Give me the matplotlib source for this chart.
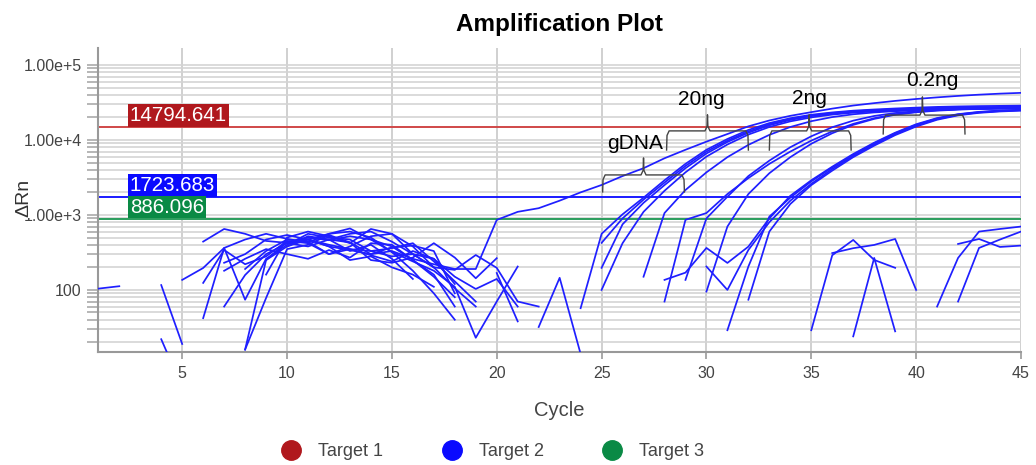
import numpy as np
import matplotlib
matplotlib.use('Agg')
import matplotlib.pyplot as plt
from matplotlib.lines import Line2D
from matplotlib.ticker import FixedLocator, LogLocator, NullFormatter

plt.rcParams['font.family'] = ['Liberation Sans', 'DejaVu Sans']

nan = np.nan

# delta Rn per cycle (cycle 1 first); nan = no positive reading
gdna = [nan, nan, nan, nan, nan, nan, 230, 300, 470, 540, 470, 380, 340, 300, 330, 260, 220, 190, 190,
        858, 1100, 1230, 1550, 2000, 2510, 3300, 4200, 5700, 7400, 9500, 12000, 15200, 18200, 21000,
        23500, 26200, 28800, 31000, 33200, 35200, 37000, 38700, 40200, 41500, 42500]

ng20_a = [104, 112, nan, nan, nan, 441, 650, 560, 450, 424, 500, 460, 520, 470, 380, 250, 150, 80,
          nan, nan, nan, nan, nan, 57, 560, 1020, 1700, 2900, 4800, 7400, 10300, 13600, 16800, 19500,
          21700, 23300, 24600, 25500, 26300, 27000, 27600, 28000, 28300, 28500, 28700]
ng20_b = [nan, nan, nan, 116, 19, nan, 60, 158, 300, 420, 470, 380, 250, 280, 200, 160, 110,
          nan, nan, nan, nan, nan, nan, nan, 424, 900, 1600, 2700, 4500, 7000, 9800, 13000, 16200,
          19000, 21200, 22900, 24100, 25000, 25700, 26300, 26800, 27100, 27400, 27600, 27800]
ng20_c = [nan, nan, nan, nan, 136, 196, 363, 74, 260, 400, 560, 500, 470, 330, 360, 420, 240, 130, 70,
          nan, nan, nan, nan, nan, 197, 750, 1450, 2500, 4200, 6600, 9400, 12500, 15700, 18500,
          20800, 22500, 23700, 24600, 25300, 25800, 26200, 26500, 26800, 27000, 27200]
ng20_d = [nan, nan, nan, 22, 5, nan, nan, 190, 330, 470, 440, 300, 380, 520, 560, 380, 200, 105, 60,
          nan, nan, nan, nan, nan, 100, 420, 1100, 2100, 3700, 6000, 8700, 11800, 14900, 17700,
          20000, 21800, 23100, 24000, 24700, 25200, 25600, 25900, 26100, 26300, 26400]
ng20_e = [nan, nan, nan, nan, nan, 42, 363, 470, 560, 480, 430, 560, 600, 500, 320, 180, 90, 40,
          nan, nan, nan, nan, nan, nan, nan, nan, 150, 1060, 2150, 3700, 5900, 8600, 11700, 14900,
          17800, 20200, 22000, 23300, 24200, 24900, 25400, 25800, 26100, 26300, 26500]

ng2_a = [nan, nan, nan, nan, nan, 124, 341, 220, 280, 450, 420, 300, 350, 290, 240, 330, 260, 120,
         nan, nan, nan, nan, nan, nan, nan, nan, nan, 70, 860, 1060, 1900, 3100, 4800, 7000, 9800,
         13000, 16400, 19500, 22000, 23700, 24900, 25700, 26200, 26600, 26900]
ng2_b = [nan, nan, nan, nan, nan, nan, nan, 16, 78, 350, 400, 540, 430, 250, 230, 270, 420, 270, 143, 265,
         nan, nan, nan, nan, nan, nan, nan, nan, nan, 95, 700, 1900, 3600, 5900, 8900, 12300, 15900,
         19100, 21700, 23400, 24600, 25400, 26000, 26400, 26700]
ng2_c = [nan, nan, nan, nan, nan, nan, nan, nan, 160, 500, 600, 520, 420, 650, 560, 300, 260, 150, 103, 140, 60,
         nan, nan, nan, nan, nan, nan, nan, 136, 900, 1750, 3300, 5300, 8000, 11200, 14800, 18100,
         20900, 22900, 24200, 25100, 25700, 26100, 26400, 26600]

ng02_a = [nan, nan, nan, nan, nan, nan, nan, nan, 250, 440, 470, 400, 350, 330, 280, 300, 200, 185, 292,
          197, 70, 60, nan, nan, nan, nan, nan, 136, 170, 363, 229, 378, 900, 1800, 2900, 4400, 6500,
          9200, 12500, 16200, 19600, 22100, 23700, 24700, 25300]
ng02_b = [nan, nan, nan, nan, nan, nan, nan, nan, nan, 380, 470, 560, 660, 470, 320, 240, 180, 110, 23, 70, 205,
          nan, nan, nan, nan, nan, nan, nan, nan, nan, 29, 205, 950, 1700, 2800, 4300, 6300, 9000,
          12300, 15900, 19300, 21900, 23500, 24500, 25100]
ng02_c = [nan, nan, nan, nan, nan, nan, 180, 260, 350, 300, 260, 340, 270, 420, 400, 250, 160, 60, nan,
          168, 38, nan, nan, nan, nan, nan, nan, nan, nan, 205, 100, 341, 800, 1550, 2600, 4100, 6100,
          8700, 11900, 15500, 19000, 21600, 23300, 24300, 24900]
ng02_d = [nan, nan, nan, nan, nan, nan, nan, 16, 250, 380, 520, 470, 430, 300, 370, 390, 330, 90,
          nan, nan, nan, 32, 145, 14, nan, nan, nan, nan, nan, nan, nan, 74, 600, 1400, 2500, 3900,
          5900, 8400, 11600, 15100, 18600, 21300, 23000, 24000, 24600]

# no-template wells
ntc_a = [nan, nan, nan, nan, nan, nan, nan, nan, nan, 420, 380, 470, 560, 600, 440, 300, 200, nan,
         nan, nan, nan, nan, nan, nan, nan, nan, nan, nan, nan, nan, nan, nan, nan, nan,
         29, 290, 464, 251, 197]
ntc_b = [nan, nan, nan, nan, nan, nan, nan, nan, nan, nan, 500, 470, 330, 400, 260, 140,
         nan, nan, nan, nan, nan, nan, nan, nan, nan, nan, nan, nan, nan, nan, nan, nan, nan, nan, nan,
         310, 360, 398, 478, 100]
ntc_c = [nan] * 36 + [24, 267, 28]
ntc_d = [nan] * 40 + [60, 267, 600, 650, 700]
ntc_e = [nan] * 41 + [410, 478, 374, 390]
ntc_f = [nan] * 41 + [70, 363, 470, 600]

wells = [gdna, ng20_a, ng20_b, ng20_c, ng20_d, ng20_e, ng2_a, ng2_b, ng2_c,
         ng02_a, ng02_b, ng02_c, ng02_d, ntc_a, ntc_b, ntc_c, ntc_d, ntc_e, ntc_f]

thresholds = [14794.641, 1723.683, 886.096]
threshold_labels = ['14794.641', '1723.683', '886.096']
targets = ['Target 1', 'Target 2', 'Target 3']
target_colors = ['#b0181d', '#0a0aff', '#0a8a45']
line_colors = ['#d04848', '#1a1aff', '#2a9d5c']

# (first cycle, last cycle, brace tip cycle, label)
braces = [(25.05, 28.95, 27.0, 'gDNA'), (28.1, 32.0, 30.05, '20ng'),
          (33.0, 36.9, 34.9, '2ng'), (38.43, 42.33, 40.3, '0.2ng')]

fig = plt.figure(figsize=(10.36, 4.65), dpi=100)
ax = fig.add_axes([0.0949, 0.2437, 0.8906, 0.6531])

for vals in wells:
    cyc = np.arange(1, len(vals) + 1)
    ax.plot(cyc, vals, color='#1f1fff', lw=1.25, zorder=3)

for thr, lab, fc, lc in zip(thresholds, threshold_labels, target_colors, line_colors):
    ax.axhline(thr, color=lc, lw=1.4, zorder=2)
    ax.annotate(lab, xy=(2.5, thr), xytext=(0, 1.5), textcoords='offset points',
                ha='left', va='bottom', color='white', fontsize=14.8, zorder=4,
                bbox=dict(boxstyle='square,pad=0.08', facecolor=fc, edgecolor='none'))


def draw_brace(x0, x1, xm, y_end, y_mid, y_tip, label, lx, ly):
    tr = ax.get_xaxis_transform()
    d, e = 0.12, 0.015
    xs = [x0, x0 + 0.02, x0 + d, xm - d, xm - 0.02, xm, xm + 0.02, xm + d, x1 - d, x1 - 0.02, x1]
    ys = [y_end, y_mid - e, y_mid, y_mid, y_mid + e, y_tip, y_mid + e, y_mid, y_mid, y_mid - e, y_end]
    ax.plot(xs, ys, color='#444444', lw=1.0, transform=tr, zorder=4)
    ax.text(lx, ly, label, transform=tr, ha='center', va='center', fontsize=15, zorder=5)


draw_brace(*braces[0][:3], 0.526, 0.582, 0.638, braces[0][3], 26.6, 0.686)
draw_brace(*braces[1][:3], 0.664, 0.727, 0.780, braces[1][3], 29.75, 0.831)
draw_brace(*braces[2][:3], 0.664, 0.727, 0.780, braces[2][3], 34.9, 0.835)
draw_brace(*braces[3][:3], 0.717, 0.779, 0.839, braces[3][3], 40.76, 0.894)

ax.set_yscale('log')
ax.set_xlim(1, 45)
ax.set_ylim(15, 1.686e5)

ax.xaxis.set_major_locator(FixedLocator([5, 10, 15, 20, 25, 30, 35, 40, 45]))
ax.yaxis.set_major_locator(FixedLocator([100, 1e3, 1e4, 1e5]))
ax.set_yticklabels(['100', '1.00e+3', '1.00e+4', '1.00e+5'])
ax.yaxis.set_minor_locator(LogLocator(base=10, subs=np.arange(2, 10)))
ax.yaxis.set_minor_formatter(NullFormatter())

ax.tick_params(axis='y', which='both', length=8, width=1.2, color='#aaaaaa', pad=4,
               labelsize=11.5, labelcolor='#444444')
ax.tick_params(axis='x', which='major', length=5, width=1.2, color='#999999', pad=5,
               labelsize=11.5, labelcolor='#444444')

ax.grid(True, axis='y', which='both', color='#d4d4d4', lw=1.2, zorder=0)
ax.grid(True, axis='x', which='major', color='#c8c8c8', lw=1.2, zorder=0)
ax.set_axisbelow(True)

for side in ['top', 'right']:
    ax.spines[side].set_visible(False)
for side in ['left', 'bottom']:
    ax.spines[side].set_color('#999999')
    ax.spines[side].set_linewidth(1.5)

ax.set_title('Amplification Plot', fontsize=17.5, fontweight='bold', pad=12)
ax.set_xlabel('Cycle', fontsize=14.5, color='#444444', labelpad=15)
ax.set_ylabel('ΔRn', fontsize=14, color='#333333',
              bbox=dict(boxstyle='square,pad=0.05', facecolor='white', edgecolor='none'))
ax.yaxis.set_label_coords(-0.072, 0.506)

handles = [Line2D([], [], marker='o', linestyle='none', markersize=14,
                  markerfacecolor=c, markeredgecolor=c) for c in target_colors]
leg = fig.legend(handles, targets, loc='center', bbox_to_anchor=(0.476, 0.029), ncol=3,
                 frameon=False, fontsize=13, handlelength=1.0, handletextpad=1.0,
                 columnspacing=3.3)
for t in leg.get_texts():
    t.set_color('#444444')

fig.savefig('out.png', dpi=100)
